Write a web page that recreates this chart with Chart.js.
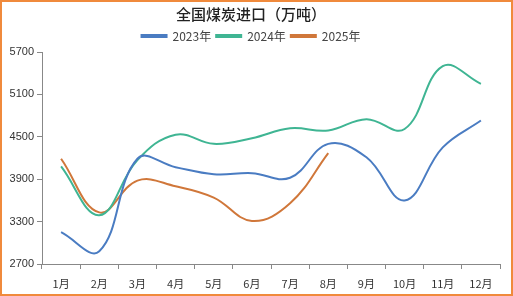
<!DOCTYPE html>
<html>
<head>
<meta charset="utf-8">
<script src="https://cdn.jsdelivr.net/npm/chart.js@4/dist/chart.umd.min.js"></script>
<style>
  html, body { margin: 0; padding: 0; background: #fff; }
  #wrap { width: 509px; height: 292px; border: 2px solid #f08a3c; position: relative; }
</style>
</head>
<body>
<div id="wrap"><canvas id="c" width="509" height="292"></canvas></div>
<script>
// 全国煤炭进口（万吨）
const months = ['1月', '2月', '3月', '4月', '5月', '6月', '7月', '8月', '9月', '10月', '11月', '12月'];
const imports2023 = [3150, 2880, 4190, 4070, 3970, 3985, 3920, 4400, 4210, 3600, 4350, 4730];
const imports2024 = [4080, 3390, 4170, 4530, 4400, 4480, 4620, 4590, 4750, 4610, 5500, 5250];
const imports2025 = [4190, 3430, 3880, 3800, 3640, 3310, 3560, 4270];
const yTicks = { min: 2700, max: 5700, step: 600 };

const font = 'Liberation Sans, Arial, sans-serif';
const cjk = '"Noto Sans CJK SC", sans-serif';

function series(label, data, color) {
  return {
    label, data,
    borderColor: color,
    backgroundColor: color,
    borderWidth: 2,
    tension: 0.4,
    pointRadius: 0,
    fill: false
  };
}

new Chart(document.getElementById('c'), {
  type: 'line',
  data: {
    labels: months,
    datasets: [
      series('2023年', imports2023, '#4a7cc2'),
      series('2024年', imports2024, '#3fb593'),
      series('2025年', imports2025, '#d0773a')
    ]
  },
  options: {
    responsive: false,
    animation: false,
    layout: { padding: { left: 0, right: 11, top: 0, bottom: 1 } },
    plugins: {
      title: {
        display: true,
        text: '全国煤炭进口（万吨）',
        color: '#222',
        font: { family: cjk, size: 15, weight: '500' },
        padding: { top: 3, bottom: 2 }
      },
      legend: {
        labels: {
          color: '#444',
          font: { family: cjk, size: 12 },
          boxWidth: 25,
          boxHeight: 2,
          padding: 5
        }
      },
      tooltip: { enabled: false }
    },
    scales: {
      x: {
        offset: true,
        afterFit: s => { s.height = 29; },
        grid: { display: true, drawOnChartArea: false, offset: true, tickLength: 5, color: '#888' },
        border: { color: '#888' },
        ticks: { color: '#333', font: { family: cjk, size: 11 }, padding: 8, maxRotation: 0 }
      },
      y: {
        min: yTicks.min, max: yTicks.max,
        afterFit: s => { s.width = 40; },
        grid: { display: true, drawOnChartArea: false, tickLength: 5, color: '#888' },
        border: { color: '#888' },
        ticks: {
          stepSize: yTicks.step, color: '#333', font: { family: font, size: 11 }, padding: 3,
          callback: v => String(v)
        }
      }
    }
  }
});
</script>
</body>
</html>
